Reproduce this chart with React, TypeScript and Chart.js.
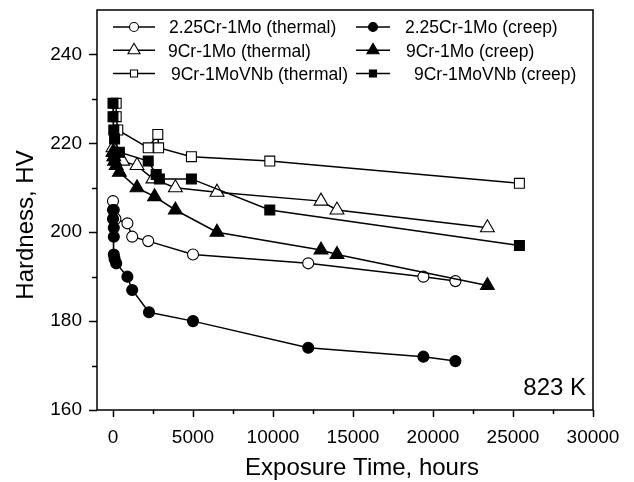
import React, { useEffect, useRef } from 'react';
import { Chart, registerables } from 'chart.js';

Chart.register(...registerables);

const FONT = '"Liberation Sans", Arial, Helvetica, sans-serif';

// Axis ticks
const xMajorTicks = [0, 5000, 10000, 15000, 20000, 25000, 30000];
const xMinorTicks = [2500, 7500, 12500, 17500, 22500, 27500];
const yMajorTicks = [160, 180, 200, 220, 240];
const yMinorTicks = [170, 190, 210, 230];

// 2.25Cr-1Mo (thermal) — open circles
const cr225ThermalX = [0, 50, 150, 900, 1200, 2200, 5000, 12200, 19400, 21400];
const cr225ThermalY = [207, 205, 203, 202, 199, 198, 195, 193, 190, 189];

// 2.25Cr-1Mo (creep) — filled circles
const cr225CreepX = [0, 0, 50, 50, 50, 100, 200, 900, 1200, 2250, 5000, 12200, 19400, 21400];
const cr225CreepY = [205, 203, 201, 199, 195, 194, 193, 190, 187, 182, 180, 174, 172, 171];

// 9Cr-1Mo (thermal) — open triangles
const cr9ThermalX = [0, 50, 150, 600, 1500, 2500, 3900, 6500, 13000, 14000, 23400];
const cr9ThermalY = [219, 218, 217, 216, 215, 212, 210, 209, 207, 205, 201];

// 9Cr-1Mo (creep) — filled triangles
const cr9CreepX = [0, 50, 100, 200, 400, 1500, 2600, 3900, 6500, 13000, 14000, 23400];
const cr9CreepY = [218, 217, 216, 215, 213.5, 210, 208, 205, 200, 196, 195, 188];

// 9Cr-1MoVNb (thermal) — open squares
const vnbThermalX = [200, 200, 300, 2200, 2800, 2850, 4900, 9800, 25400];
const vnbThermalY = [229, 226, 223, 219, 222, 219, 217, 216, 211];

// 9Cr-1MoVNb (creep) — filled squares
const vnbCreepX = [0, 0, 50, 100, 400, 2200, 2700, 2900, 4900, 9800, 25400];
const vnbCreepY = [229, 226, 223, 221, 218, 216, 213, 212, 212, 205, 197];

const seriesLabels = [
  '2.25Cr-1Mo (thermal)',
  '2.25Cr-1Mo (creep)',
  '9Cr-1Mo (thermal)',
  '9Cr-1Mo (creep)',
  '9Cr-1MoVNb (thermal)',
  '9Cr-1MoVNb (creep)',
];

const toPts = (xs: number[], ys: number[]) => xs.map((x, i) => ({ x, y: ys[i] }));

type Style = 'circle' | 'triangle' | 'rect';

function drawMarker(ctx: CanvasRenderingContext2D, style: Style, x: number, y: number, r: number, filled: boolean) {
  ctx.save();
  ctx.beginPath();
  if (style === 'circle') {
    ctx.arc(x, y, r, 0, Math.PI * 2);
  } else if (style === 'triangle') {
    const s = Math.sin(Math.PI * 2 / 3) * r;
    ctx.moveTo(x, y - r);
    ctx.lineTo(x + s, y + r * 0.5);
    ctx.lineTo(x - s, y + r * 0.5);
    ctx.closePath();
  } else {
    const h = Math.SQRT1_2 * r;
    ctx.rect(x - h, y - h, 2 * h, 2 * h);
  }
  ctx.fillStyle = filled ? '#000' : '#fff';
  ctx.fill();
  ctx.lineWidth = 1.1;
  ctx.strokeStyle = '#000';
  ctx.stroke();
  ctx.restore();
}

const frameAndDecor = {
  id: 'frameAndDecor',
  afterDraw(chart: any) {
    const ctx: CanvasRenderingContext2D = chart.ctx;
    const { left, right, top, bottom } = chart.chartArea;
    const xs = chart.scales.x;
    const ys = chart.scales.y;
    ctx.save();
    ctx.strokeStyle = '#000';
    ctx.lineWidth = 1.5;
    ctx.strokeRect(left, top, right - left, bottom - top);

    ctx.lineWidth = 1.5;
    ctx.beginPath();
    xMajorTicks.forEach((v) => {
      const px = Math.round(xs.getPixelForValue(v)) + 0.5;
      ctx.moveTo(px, bottom);
      ctx.lineTo(px, bottom + 7);
    });
    xMinorTicks.forEach((v) => {
      const px = Math.round(xs.getPixelForValue(v)) + 0.5;
      ctx.moveTo(px, bottom);
      ctx.lineTo(px, bottom + 4);
    });
    yMajorTicks.forEach((v) => {
      const py = Math.round(ys.getPixelForValue(v)) + 0.5;
      ctx.moveTo(left, py);
      ctx.lineTo(left - 8, py);
    });
    yMinorTicks.forEach((v) => {
      const py = Math.round(ys.getPixelForValue(v)) + 0.5;
      ctx.moveTo(left, py);
      ctx.lineTo(left - 5, py);
    });
    ctx.stroke();

    // Axis titles
    ctx.fillStyle = '#000';
    ctx.font = `24px ${FONT}`;
    ctx.textAlign = 'center';
    ctx.textBaseline = 'alphabetic';
    ctx.fillText('Exposure Time, hours', 362, 475);

    ctx.save();
    ctx.translate(33, 225);
    ctx.rotate(-Math.PI / 2);
    ctx.fillText('Hardness, HV', 0, 0);
    ctx.restore();

    // Temperature annotation
    ctx.textAlign = 'right';
    ctx.fillText('823 K', 586, 395);

    // Legend
    const rowsMarkerY = [27, 50.3, 73.5];
    const rowsBaseY = [33.3, 56.7, 80];
    const legendItems: { style: Style; filled: boolean; col: number; row: number; tx: number; r: number }[] = [
      { style: 'circle', filled: false, col: 0, row: 0, tx: 169, r: 4.5 },
      { style: 'circle', filled: true, col: 1, row: 0, tx: 405, r: 4.5 },
      { style: 'triangle', filled: false, col: 0, row: 1, tx: 168, r: 7 },
      { style: 'triangle', filled: true, col: 1, row: 1, tx: 406, r: 7 },
      { style: 'rect', filled: false, col: 0, row: 2, tx: 171, r: 5 },
      { style: 'rect', filled: true, col: 1, row: 2, tx: 414, r: 5 },
    ];
    const cols = [
      { x1: 113, x2: 155, mx: 134 },
      { x1: 356, x2: 390, mx: 373 },
    ];
    ctx.font = `17.5px ${FONT}`;
    ctx.textAlign = 'left';
    legendItems.forEach((it, i) => {
      const c = cols[it.col];
      const my = rowsMarkerY[it.row];
      ctx.beginPath();
      ctx.lineWidth = 1.5;
      ctx.moveTo(c.x1, my);
      ctx.lineTo(c.x2, my);
      ctx.stroke();
      drawMarker(ctx, it.style, c.mx, my, it.r, it.filled);
      ctx.fillStyle = '#000';
      ctx.fillText(seriesLabels[i], it.tx, rowsBaseY[it.row]);
    });
    ctx.restore();
  },
};

function makeDataset(label: string, xs: number[], ys: number[], style: Style, filled: boolean, radius: number) {
  return {
    label,
    data: toPts(xs, ys),
    showLine: true,
    fill: false,
    tension: 0,
    borderColor: '#000',
    borderWidth: 1.5,
    pointStyle: style,
    pointRadius: radius,
    pointHoverRadius: radius,
    pointBackgroundColor: filled ? '#000' : '#fff',
    pointBorderColor: '#000',
    pointBorderWidth: 1.1,
  };
}

export default function App() {
  const canvasRef = useRef<HTMLCanvasElement | null>(null);

  useEffect(() => {
    const canvas = canvasRef.current;
    if (!canvas) return;
    const chart = new Chart(canvas, {
      type: 'scatter',
      data: {
        datasets: [
          makeDataset(seriesLabels[5], vnbCreepX, vnbCreepY, 'rect', true, 7),
          makeDataset(seriesLabels[4], vnbThermalX, vnbThermalY, 'rect', false, 7),
          makeDataset(seriesLabels[3], cr9CreepX, cr9CreepY, 'triangle', true, 8),
          makeDataset(seriesLabels[2], cr9ThermalX, cr9ThermalY, 'triangle', false, 8),
          makeDataset(seriesLabels[1], cr225CreepX, cr225CreepY, 'circle', true, 5.5),
          makeDataset(seriesLabels[0], cr225ThermalX, cr225ThermalY, 'circle', false, 5.5),
        ] as any,
      },
      options: {
        responsive: false,
        animation: false,
        devicePixelRatio: 1,
        layout: { padding: { left: 0, right: 41, top: 10, bottom: 0 } },
        plugins: {
          legend: { display: false },
          tooltip: { enabled: false },
        },
        scales: {
          x: {
            type: 'linear',
            min: -1000,
            max: 30000,
            afterBuildTicks: (s: any) => {
              s.ticks = xMajorTicks.map((v) => ({ value: v }));
            },
            afterFit: (s: any) => {
              s.height = 72;
              s.paddingLeft = 0;
              s.paddingRight = 0;
            },
            grid: { display: false, drawTicks: false },
            border: { display: false },
            ticks: {
              color: '#000',
              font: { family: FONT, size: 19 },
              padding: 16,
              maxRotation: 0,
              autoSkip: false,
              callback: (v: any) => String(v),
            },
          },
          y: {
            type: 'linear',
            min: 160,
            max: 250,
            afterBuildTicks: (s: any) => {
              s.ticks = yMajorTicks.map((v) => ({ value: v }));
            },
            afterFit: (s: any) => {
              s.width = 97;
              s.paddingTop = 0;
              s.paddingBottom = 0;
            },
            grid: { display: false, drawTicks: false },
            border: { display: false },
            ticks: {
              color: '#000',
              font: { family: FONT, size: 19 },
              padding: 15,
              autoSkip: false,
              callback: (v: any) => String(v),
            },
          },
        },
      } as any,
      plugins: [frameAndDecor],
    });
    return () => chart.destroy();
  }, []);

  return (
    <div style={{ position: 'fixed', left: 0, top: 0, width: 634, height: 482, background: '#fff' }}>
      <canvas ref={canvasRef} width={634} height={482} style={{ display: 'block' }} />
    </div>
  );
}
